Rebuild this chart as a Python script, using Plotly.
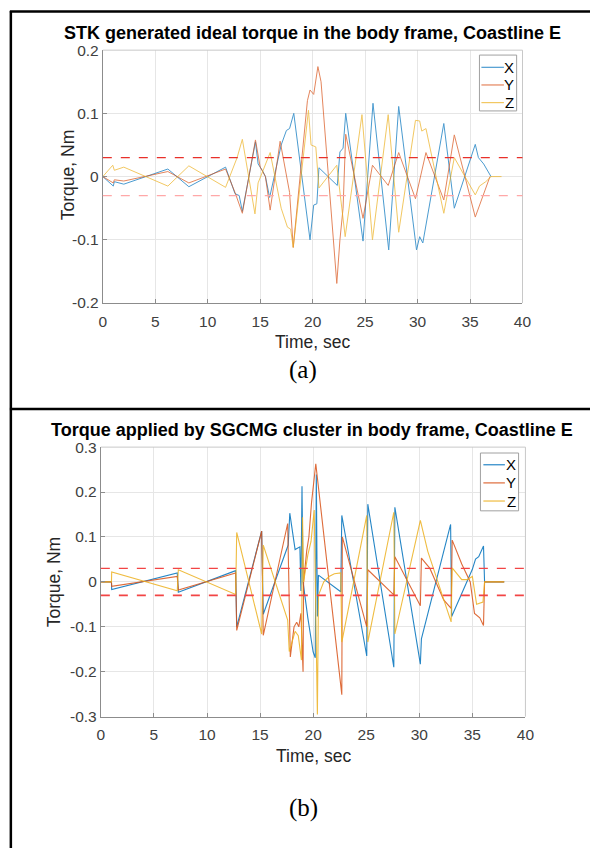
import plotly.graph_objects as go

W, H = 599, 856

# ---------------- data: panel (a) STK ideal torque ----------------
a_t_x = [0, 1.0, 1.1, 2.0, 6.2, 8.2, 11.7, 12.6, 13.0, 13.3, 14.55, 14.8, 15.2, 15.5, 15.9, 16.5, 17.0, 17.5, 17.8, 18.2,
         19.75, 20.1, 20.4, 20.6, 22.35, 22.6, 22.9, 23.15, 24.8, 25.75, 27.25, 28.2, 29.9, 30.2, 30.5, 32.5, 33.5, 35.5,
         35.8, 36.3, 37.0]
a_x = [0, -0.015, -0.008, -0.012, 0.012, -0.016, 0.015, -0.027, -0.03, -0.055, 0.055, 0.02, 0.01, 0.0, -0.033, 0.01,
       0.05, 0.073, 0.076, 0.1, -0.1, -0.045, -0.043, 0.014, -0.014, 0.039, 0.045, 0.1, -0.102, 0.116, -0.116, 0.111,
       -0.116, -0.095, -0.105, 0.084, -0.05, 0.051, 0.03, 0.02, 0.0]

a_t_y = [0, 1.0, 1.1, 2.0, 6.2, 8.2, 11.7, 12.6, 13.3, 14.55, 15.0, 15.5, 15.95, 16.9, 17.8, 18.15, 19.5, 19.75, 20.1,
         20.5, 20.8, 22.3, 22.6, 22.9, 23.15, 24.8, 25.7, 27.2, 28.2, 29.8, 30.8, 32.5, 33.5, 35.5, 36.9]
a_y = [0, -0.01, -0.005, -0.007, 0.008, -0.01, 0.012, -0.025, -0.058, 0.058, 0.015, 0.0, -0.053, 0.056, -0.025, -0.112,
       0.12, 0.137, 0.13, 0.174, 0.15, -0.169, -0.1, -0.05, 0.067, -0.066, 0.018, -0.014, 0.038, -0.035, 0.038, -0.037,
       0.066, -0.064, 0.0]

a_t_z = [0, 0.95, 1.1, 2.0, 6.2, 8.2, 11.7, 12.8, 13.3, 14.5, 14.8, 15.95, 17.0, 17.6, 17.9, 18.15, 19.6, 19.85, 20.3,
         20.6, 22.3, 23.1, 24.7, 25.7, 27.2, 28.2, 29.8, 30.2, 30.4, 30.8, 32.5, 33.5, 35.5, 35.9, 36.5, 37.0, 38.0]
a_z = [0, 0.018, 0.01, 0.015, -0.015, 0.017, -0.017, 0.03, 0.059, -0.059, -0.01, 0.038, -0.05, -0.08, -0.083, -0.112,
       0.105, 0.05, 0.047, -0.018, 0.018, -0.095, 0.098, -0.1, 0.098, -0.088, 0.089, 0.088, 0.072, 0.076, -0.058, 0.03,
       -0.029, -0.015, -0.008, 0.0, 0.0]

# ---------------- data: panel (b) SGCMG cluster torque ----------------
b_t_x = [0, 1.0, 1.02, 7.2, 7.3, 12.7, 12.8, 15.15, 15.3, 17.65, 17.8, 18.3, 18.75, 18.85, 18.95, 19.05, 19.5, 20.0,
         20.2, 20.3, 20.4, 20.5, 22.6, 22.7, 25.05, 25.15, 27.6, 27.7, 30.1, 30.2, 32.95, 33.05, 35.0, 35.3, 35.6,
         36.05, 36.15, 38.0]
b_x = [0, 0, -0.017, 0.02, -0.023, 0.025, -0.1, 0.113, -0.072, 0.082, 0.153, 0.072, 0.078, -0.02, 0.213, 0.0, -0.08,
       -0.156, -0.169, 0.239, -0.077, 0.015, -0.022, 0.148, -0.165, 0.173, -0.19, 0.166, -0.183, -0.127, 0.128, -0.077,
       0.028, 0.051, 0.056, 0.08, 0.0, 0.0]

b_t_y = [0, 1.0, 1.02, 7.2, 7.3, 12.7, 12.8, 15.15, 15.3, 17.6, 17.85, 18.2, 18.45, 18.65, 18.85, 19.05, 19.1, 19.4,
         19.6, 19.85, 20.25, 22.7, 22.75, 25.05, 25.15, 27.6, 27.7, 30.1, 30.2, 31.0, 32.3, 33.0, 33.1, 34.0, 34.8,
         35.2, 35.7, 36.05, 36.15, 38.0]
b_y = [0, 0, -0.01, 0.012, -0.018, 0.02, -0.108, 0.113, -0.119, 0.13, -0.167, -0.1, -0.09, -0.1, -0.07, -0.2, 0.0,
       0.07, 0.1, 0.177, 0.263, -0.251, 0.1, -0.1, 0.027, -0.029, 0.056, -0.053, 0.053, 0.03, -0.04, -0.059, 0.093,
       0.04, 0.0, -0.07, -0.08, -0.097, 0.0, 0.0]

b_t_z = [0, 1.0, 1.02, 7.2, 7.3, 12.7, 12.8, 15.15, 15.3, 17.6, 17.75, 18.3, 18.6, 18.9, 19.0, 19.1, 19.5, 19.8, 20.1,
         20.4, 20.5, 21.0, 21.5, 22.0, 22.6, 22.7, 25.05, 25.15, 27.6, 27.7, 30.1, 30.8, 33.0, 33.1, 34.0, 34.5, 35.0,
         35.4, 36.0, 36.15, 38.0]
b_z = [0, 0, 0.022, -0.02, 0.027, -0.028, 0.11, -0.116, 0.082, -0.085, -0.155, -0.11, -0.12, -0.174, 0.144, 0.0, 0.06,
       0.09, 0.16, -0.295, -0.03, 0.0, 0.012, 0.018, 0.02, -0.134, 0.148, -0.134, 0.155, -0.116, 0.137, 0.068, -0.089,
       0.031, 0.005, 0.005, 0.012, -0.05, -0.045, 0.0, 0.0]

threshold = 0.03

x_ticks = [0, 5, 10, 15, 20, 25, 30, 35, 40]
x_ticktext = ["0", "5", "10", "15", "20", "25", "30", "35", "40"]
a_yticks = [-0.2, -0.1, 0, 0.1, 0.2]
a_yticktext = ["-0.2", "-0.1", "0", "0.1", "0.2"]
b_yticks = [-0.3, -0.2, -0.1, 0, 0.1, 0.2, 0.3]
b_yticktext = ["-0.3", "-0.2", "-0.1", "0", "0.1", "0.2", "0.3"]

series_names = ["X", "Y", "Z"]
title_a = "STK generated ideal torque in the body frame, Coastline E"
title_b = "Torque applied by SGCMG cluster in body frame, Coastline E"

# ---------------- styling ----------------
COLORS = ["#0072BD", "#D95319", "#EDB120"]
FONT = "Liberation Sans, Arial, sans-serif"


def px(x):
    return x / W


def py(y):
    return 1 - y / H


fig = go.Figure()

for (t, v), name, col in zip([(a_t_x, a_x), (a_t_y, a_y), (a_t_z, a_z)], series_names, COLORS):
    fig.add_trace(go.Scatter(x=t, y=v, mode="lines", name=name, line=dict(color=col, width=1),
                             opacity=0.7, xaxis="x", yaxis="y", showlegend=False))
for (t, v), name, col in zip([(b_t_x, b_x), (b_t_y, b_y), (b_t_z, b_z)], series_names, COLORS):
    fig.add_trace(go.Scatter(x=t, y=v, mode="lines", name=name, line=dict(color=col, width=1.1),
                             opacity=0.85, xaxis="x2", yaxis="y2", showlegend=False))

axis_common = dict(showgrid=True, gridcolor="#e6e6e6", gridwidth=1, zeroline=False, showline=True,
                   linecolor="#8c8c8c", linewidth=1, ticks="inside", ticklen=4, tickcolor="#8c8c8c",
                   tickfont=dict(family=FONT, size=15.5, color="#404040"), fixedrange=True)

fig.update_layout(
    width=W, height=H, margin=dict(l=0, r=0, t=0, b=0),
    paper_bgcolor="white", plot_bgcolor="white", showlegend=False,
    xaxis=dict(domain=[px(101), px(530)], range=[0, 40], tickvals=x_ticks, ticktext=x_ticktext,
               anchor="y", ticklabelstandoff=4, **axis_common),
    yaxis=dict(domain=[py(300), py(42)], range=[-0.2, 0.2], tickvals=a_yticks, ticktext=a_yticktext,
               anchor="x", **axis_common),
    xaxis2=dict(domain=[px(99), px(533)], range=[0, 40], tickvals=x_ticks, ticktext=x_ticktext,
                anchor="y2", ticklabelstandoff=4, **axis_common),
    yaxis2=dict(domain=[py(722), py(447)], range=[-0.3, 0.3], tickvals=b_yticks, ticktext=b_yticktext,
                anchor="x2", **axis_common),
)

shapes = []
ann = []


def add_text(text, x, y, size, family=FONT, angle=0, color="#000", xanchor="center"):
    ann.append(dict(text=text, x=px(x), y=py(y), xref="paper", yref="paper", showarrow=False,
                    xanchor=xanchor, yanchor="middle", textangle=angle,
                    font=dict(family=family, size=size, color=color)))


for xa, ya in [("x", "y"), ("x2", "y2")]:
    shapes.append(dict(type="line", xref=f"{xa} domain", yref=f"{ya} domain", x0=0, x1=1, y0=1, y1=1,
                       line=dict(color="#c8c8c8", width=1), layer="above"))
    shapes.append(dict(type="line", xref=f"{xa} domain", yref=f"{ya} domain", x0=1, x1=1, y0=0, y1=1,
                       line=dict(color="#c8c8c8", width=1), layer="above"))
shapes.append(dict(type="line", xref="x domain", yref="y", x0=0, x1=1, y0=threshold, y1=threshold,
                   line=dict(color="#e8302a", width=1.2, dash="dash")))
shapes.append(dict(type="line", xref="x domain", yref="y", x0=0, x1=1, y0=-threshold, y1=-threshold,
                   line=dict(color="#ffa8a8", width=1.2, dash="dash")))
shapes.append(dict(type="line", xref="x2 domain", yref="y2", x0=0, x1=1, y0=threshold, y1=threshold,
                   line=dict(color="#f24545", width=1.3, dash="dash")))
shapes.append(dict(type="line", xref="x2 domain", yref="y2", x0=0, x1=1, y0=-threshold, y1=-threshold,
                   line=dict(color="#f24545", width=1.6, dash="dash")))

# legends (box + swatches + labels)
for (bx0, by0, bx1, by1, lx0, lx1, tx, rows, op) in [
        (486, 47, 524, 104, 488, 511, 516.5, [59.5, 77.5, 95.5], 0.7),
        (487, 453, 526, 512, 490, 512, 518.5, [465, 483.5, 502], 0.85)]:
    shapes.append(dict(type="rect", xref="paper", yref="paper", x0=px(bx0), x1=px(bx1), y0=py(by1), y1=py(by0),
                       fillcolor="white", line=dict(color="#a0a0a0", width=1), layer="above"))
    for name, col, ry in zip(series_names, COLORS, rows):
        shapes.append(dict(type="line", xref="paper", yref="paper", x0=px(lx0), x1=px(lx1), y0=py(ry), y1=py(ry),
                           line=dict(color=col, width=1.2), opacity=op, layer="above"))
        add_text(name, tx, ry, 15, color="#000")

frame = dict(color="black", width=2.5)
shapes.append(dict(type="line", xref="paper", yref="paper", x0=px(7), x1=px(7), y0=py(2), y1=py(856), line=frame))
shapes.append(dict(type="line", xref="paper", yref="paper", x0=px(6), x1=1, y0=py(2.5), y1=py(2.5), line=frame))
shapes.append(dict(type="line", xref="paper", yref="paper", x0=px(6), x1=1, y0=py(408), y1=py(408), line=frame))
fig.update_layout(shapes=shapes)

add_text(f"<b>{title_a}</b>", 315.5, 24.5, 18)
add_text("Time, sec", 315, 340, 17.5, color="#262626")
add_text("Torque, Nm", 65, 170, 17.5, angle=-90, color="#262626")
add_text("(a)", 305.5, 368, 25, family="Liberation Serif, Times New Roman, serif")
add_text(f"<b>{title_b}</b>", 315, 429.5, 18)
add_text("Time, sec", 316, 762, 17.5, color="#262626")
add_text("Torque, Nm", 52, 585, 17.5, angle=-90, color="#262626")
add_text("(b)", 306, 815, 25, family="Liberation Serif, Times New Roman, serif")
fig.update_layout(annotations=ann)

fig.write_html("out.html", config={"displayModeBar": False},
               post_script="document.body.style.margin='0';document.body.style.overflow='hidden';")
